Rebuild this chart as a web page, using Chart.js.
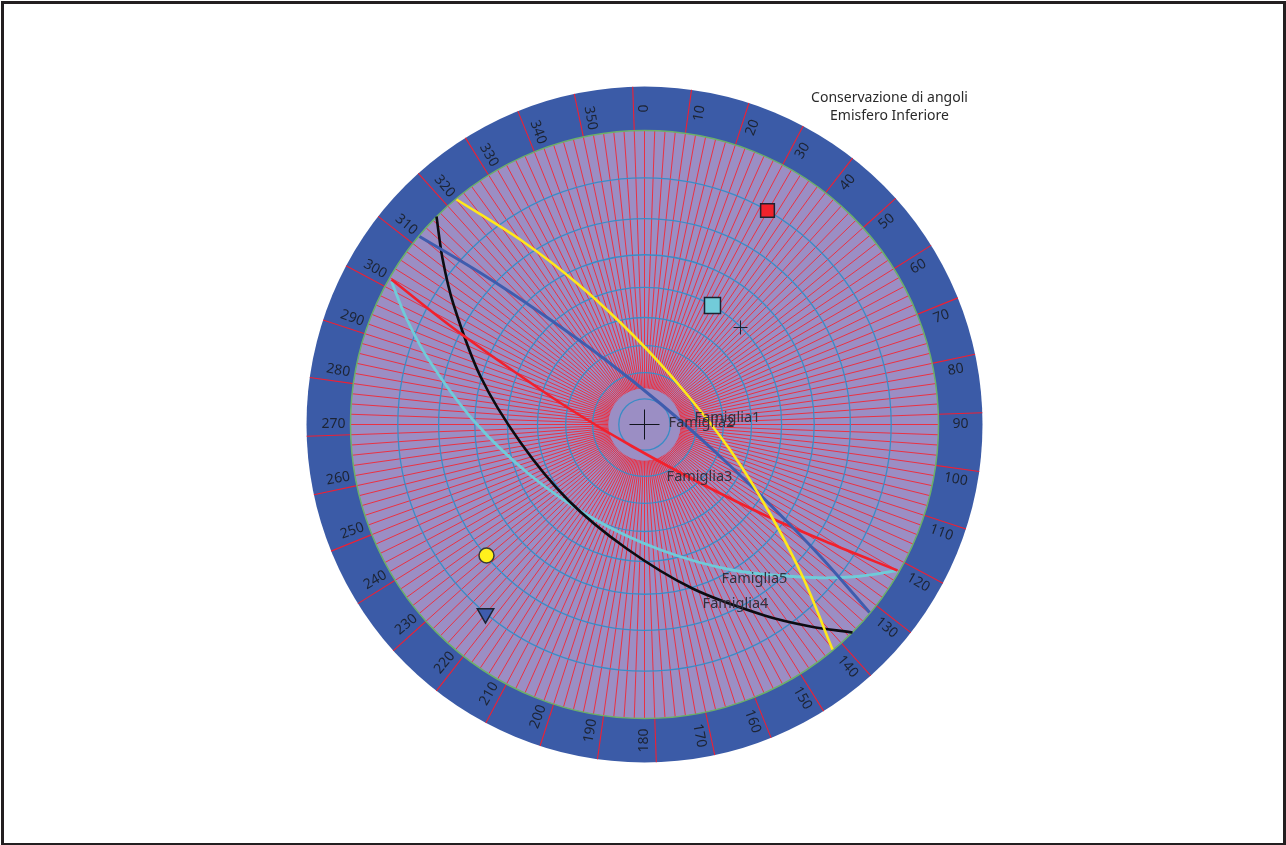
<!DOCTYPE html>
<html>
<head>
<meta charset="utf-8">
<title>Conservazione di angoli</title>
<script src="https://cdn.jsdelivr.net/npm/chart.js@4"></script>
<style>
    html, body { margin: 0; padding: 0; background: #fff; overflow: hidden; }
    #wrap { position: relative; width: 1286px; height: 845px; }
    #netChart { display: block; }
    #frame {
        position: absolute; left: 1px; top: 1px; width: 1285px; height: 844px;
        box-sizing: border-box; border: 3px solid #231f20; border-bottom-width: 2px;
        pointer-events: none;
    }
</style>
</head>
<body>
<div id="wrap">
    <canvas id="netChart" width="1286" height="845"></canvas>
    <div id="frame"></div>
</div>
<script>
// net units: primitive circle has radius 294, centre is 0,0
const azimuthLabels = [0, 10, 20, 30, 40, 50, 60, 70, 80, 90, 100, 110, 120, 130, 140, 150, 160, 170,
    180, 190, 200, 210, 220, 230, 240, 250, 260, 270, 280, 290, 300, 310, 320, 330, 340, 350];
const ringDips = [10, 20, 30, 40, 50, 60, 70, 80];

const famiglia1X = [-188, -123, -66, -11, 40, 86, 126, 159, 188];
const famiglia1Y = [225, 184, 140, 89, 33, -26, -90, -154, -225];
const famiglia2X = [-225, -161.5, -103, -42, 17, 73, 127, 176, 225];
const famiglia2Y = [188, 150, 111, 67, 20, -29.5, -81.5, -132, -188];
const famiglia3X = [-253, -196, -139, -77, -12, 53.5, 121, 186, 253];
const famiglia3Y = [145, 100, 59, 17, -22, -57.5, -91, -119, -146];
const famiglia4X = [-208, -202, -191, -164, -124, -76, -18, 48, 120, 166, 208];
const famiglia4Y = [208, 166, 120, 48, -18, -76, -124, -164, -191, -202, -208];
const famiglia5X = [-253, -238.5, -216, -171, -115, -53, 15, 90, 166, 213, 253];
const famiglia5Y = [143, 107, 65, 4, -50, -93, -125, -146, -153, -152, -146];

const familyNames = ['Famiglia1', 'Famiglia2', 'Famiglia3', 'Famiglia4', 'Famiglia5'];
const familyLabelX = [83, 57, 55, 91, 110];
const familyLabelY = [7, 2, -52, -179, -154];

const titleLines = ['Conservazione di angoli', 'Emisfero Inferiore'];

const PRIMITIVE = 294;
const BAND_OUTER = 338;
const HOLE = 36;

const toPoints = (xs, ys) => xs.map((x, i) => ({ x, y: ys[i] }));

function curve(label, xs, ys, color, width) {
    return {
        label,
        data: toPoints(xs, ys),
        showLine: true,
        borderColor: color,
        borderWidth: width,
        tension: 0.33,
        pointRadius: 0,
        fill: false
    };
}

function marker(label, x, y, style, radius, fill, extra) {
    return Object.assign({
        label,
        data: [{ x, y }],
        showLine: false,
        pointStyle: style,
        pointRadius: radius,
        pointBackgroundColor: fill,
        pointBorderColor: '#1c2230',
        pointBorderWidth: 1.5
    }, extra);
}

// grid of the net, drawn through the scales like an axis
const netGrid = {
    id: 'netGrid',
    beforeDatasetsDraw(chart) {
        const { ctx, scales: { x, y } } = chart;
        const cx = x.getPixelForValue(0);
        const cy = y.getPixelForValue(0);
        const px = v => x.getPixelForValue(v) - cx;
        const circle = (r, fill, stroke, width) => {
            ctx.beginPath();
            ctx.arc(cx, cy, px(r), 0, Math.PI * 2);
            if (fill) { ctx.fillStyle = fill; ctx.fill(); }
            if (stroke) { ctx.strokeStyle = stroke; ctx.lineWidth = width; ctx.stroke(); }
        };
        const spoke = (az, r0, r1) => {
            const a = az * Math.PI / 180;
            ctx.moveTo(cx + px(r0) * Math.sin(a), cy - px(r0) * Math.cos(a));
            ctx.lineTo(cx + px(r1) * Math.sin(a), cy - px(r1) * Math.cos(a));
        };
        ctx.save();
        circle(BAND_OUTER, '#3b5ba7');
        circle(PRIMITIVE, '#9b8ec4');

        ctx.strokeStyle = '#f8202c';
        ctx.lineWidth = 0.85;
        ctx.beginPath();
        for (let az = 0; az < 360; az += 2) spoke(az, HOLE, PRIMITIVE);
        ctx.stroke();
        ctx.strokeStyle = '#ee2034';
        ctx.lineWidth = 1.1;
        ctx.beginPath();
        azimuthLabels.forEach(az => spoke(az - 2, PRIMITIVE, BAND_OUTER));
        ctx.stroke();

        circle(HOLE, '#9b8ec4');
        ringDips.forEach(d => circle(PRIMITIVE * Math.tan((90 - d) / 2 * Math.PI / 180), null, '#3a8cc6', 1.3));
        circle(PRIMITIVE, null, '#6cb06a', 1.5);

        ctx.fillStyle = '#1d2433';
        ctx.font = '14px "Noto Sans"';
        ctx.textAlign = 'center';
        ctx.textBaseline = 'middle';
        azimuthLabels.forEach(az => {
            const a = az * Math.PI / 180;
            const rot = (az < 180 ? az - 90 : az - 270) * Math.PI / 180;
            const r = az <= 180 ? 316 : 311;
            ctx.save();
            ctx.translate(cx + px(r) * Math.sin(a), cy - px(r) * Math.cos(a));
            ctx.rotate(rot);
            ctx.fillText(String(az), 0, 0);
            ctx.restore();
        });
        ctx.restore();
    },
    afterDatasetsDraw(chart) {
        const { ctx, scales: { x, y } } = chart;
        ctx.save();
        ctx.font = '14.5px "Noto Sans"';
        ctx.textAlign = 'center';
        ctx.textBaseline = 'middle';
        ctx.fillStyle = '#33303d';
        familyNames.forEach((name, i) => {
            ctx.fillText(name, x.getPixelForValue(familyLabelX[i]), y.getPixelForValue(familyLabelY[i]));
        });
        ctx.font = '14px "Noto Sans"';
        ctx.fillStyle = '#2a2a2a';
        titleLines.forEach((line, i) => {
            ctx.fillText(line, x.getPixelForValue(245), y.getPixelForValue(326 - i * 18));
        });
        ctx.restore();
    }
};

new Chart(document.getElementById('netChart').getContext('2d'), {
    type: 'scatter',
    data: {
        datasets: [
            curve(familyNames[0], famiglia1X, famiglia1Y, '#ffe81a', 2.6),
            curve(familyNames[1], famiglia2X, famiglia2Y, '#3f5cae', 3),
            curve(familyNames[2], famiglia3X, famiglia3Y, '#f2202c', 2.6),
            curve(familyNames[3], famiglia4X, famiglia4Y, '#0c0c10', 2.6),
            curve(familyNames[4], famiglia5X, famiglia5Y, '#6fcbd8', 2.8),
            marker('Polo1', 123, 214, 'rect', 9.7, '#f0222c'),
            marker('Polo2', 68, 119, 'rect', 11.3, '#72cbd9'),
            marker('Polo3', 96, 97, 'cross', 7, '#10131c', { pointBorderWidth: 1 }),
            marker('Polo4', -158, -131, 'circle', 7.5, '#fff01c', { pointBorderColor: '#3a3a3a' }),
            marker('Polo5', -159, -189, 'triangle', 9.5, '#3f5cae', { pointRotation: 180 }),
            marker('Centro', 0, 0, 'cross', 15, '#10131c', { pointBorderWidth: 1, pointBorderColor: '#10131c' })
        ]
    },
    options: {
        responsive: false,
        animation: false,
        layout: { padding: 0, autoPadding: false },
        plugins: { legend: { display: false }, tooltip: { enabled: false } },
        scales: {
            x: { type: 'linear', display: false, min: -644.5, max: 641.5 },
            y: { type: 'linear', display: false, min: -420.5, max: 424.5 }
        }
    },
    plugins: [netGrid]
});
</script>
</body>
</html>
